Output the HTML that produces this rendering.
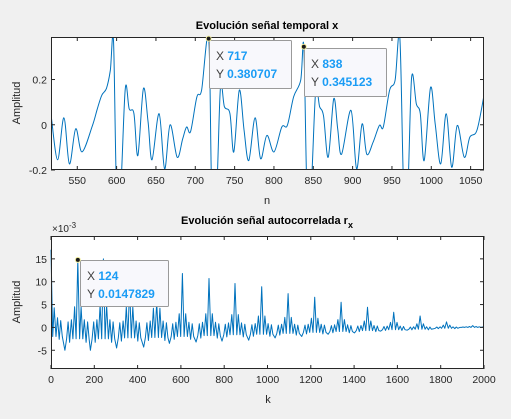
<!DOCTYPE html>
<html><head><meta charset="utf-8"><style>
body{margin:0;background:#f0f0f0;font-family:"Liberation Sans",Arial,sans-serif;}
svg text{font-family:"Liberation Sans",Arial,sans-serif;}
</style></head><body>
<svg id="fig" width="511" height="414" xmlns="http://www.w3.org/2000/svg">
<rect width="511" height="414" fill="#f0f0f0"/>
</svg>
<script>
// ---------- Top chart data: key points of signal x[n] ----------
const topN = [517,525,533,540,548,556,569,575,581,587,592,596,600,605,611,616,622,627,634,640,645,654,661,668,677,684,689,694,702,708,717,721,727,732,737,744,749,756,762,768,776,783,791,800,810,817,825,834,838,842,847,853,858,863,869,876,881,886,898,905,912,918,926,934,939,947,954,960,965,970,975,981,986,991,999,1005,1012,1019,1026,1033,1042,1049,1058,1067];
const topV = [0.034,-0.155,0.031,-0.173,-0.018,-0.12,-0.007,0.064,0.13,0.16,0.24,0.372,-0.3,-0.3,0.16,0.07,0.05,-0.136,0.16,0.012,-0.155,0.049,-0.195,0.0,-0.144,-0.062,-0.01,-0.03,0.123,0.153,0.3807,-0.3,-0.3,0.167,0.08,0.05,-0.12,0.153,-0.025,-0.158,0.031,-0.15,-0.047,-0.12,-0.01,-0.003,0.123,0.197,0.3451,-0.3,-0.3,0.145,0.08,0.04,-0.144,0.115,-0.018,-0.13,0.064,-0.195,0.004,-0.13,-0.077,-0.003,-0.01,0.153,0.197,0.387,-0.3,-0.3,0.209,0.093,0.049,-0.158,0.164,0.004,-0.173,0.049,-0.188,-0.003,-0.144,-0.055,-0.025,0.13];
const topXTicks = [550,600,650,700,750,800,850,900,950,1000,1050];
const topYTicks = [-0.2,0,0.2];
const topYLabels = ["-0.2","0","0.2"];

// ---------- Bottom chart data: autocorrelation r_x (units 1e-3) ----------
const peakLags = [0,124,242,363,488,607,730,850,973,1095,1218,1340,1462,1583,1705,1827,1948];
const peakVals = [17,14.8,15,9.1,5.5,11.8,10.7,9.6,8.9,7.4,6.6,5.5,4.4,3.3,2.5,1.2,0.4];
const sideVals = [4.3,4.5,5,4.5,4.2,3,3,2.8,2.5,2.2,2,1.7,1.4,1.1,0.8,0.5,0.2];
const ripHi = [1.5,1.2,1.2,1,1,0.8,0.8,0.7,0.6,0.5,0.5,0.4,0.3,0.2,0.1,0.1,0.1];
const ripLo = [-2,-2.5,-2.5,-2.3,-2.2,-2,-1.8,-1.6,-1.5,-1.3,-1.1,-0.9,-0.7,-0.5,-0.4,-0.2,0];
const troughVals = [-5.5,-5,-5,-4.5,-4.3,-3.5,-3.2,-3,-2.8,-2.3,-2,-1.5,-1.2,-0.8,-0.6,-0.3,0];
const botXTicks = [0,200,400,600,800,1000,1200,1400,1600,1800,2000];
const botYTicks = [-5,0,5,10,15];

const NS="http://www.w3.org/2000/svg";
const svg=document.getElementById('fig');
function el(t,a,p){const e=document.createElementNS(NS,t);for(const k in a)e.setAttribute(k,a[k]);(p||svg).appendChild(e);return e;}
function txt(s,a,p){const e=el('text',a,p);e.textContent=s;return e;}
function smooth(P){
  let d='M'+P[0][0].toFixed(1)+','+P[0][1].toFixed(1);
  for(let i=0;i<P.length-1;i++){
    const p0=P[Math.max(0,i-1)],p1=P[i],p2=P[i+1],p3=P[Math.min(P.length-1,i+2)];
    const c1x=p1[0]+(p2[0]-p0[0])/6,c1y=p1[1]+(p2[1]-p0[1])/6;
    const c2x=p2[0]-(p3[0]-p1[0])/6,c2y=p2[1]-(p3[1]-p1[1])/6;
    d+='C'+c1x.toFixed(1)+','+c1y.toFixed(1)+' '+c2x.toFixed(1)+','+c2y.toFixed(1)+' '+p2[0].toFixed(1)+','+p2[1].toFixed(1);
  }
  return d;
}

function axes(L,T,R,B,name){
  const g=el('g',{});
  
  
  const r=el('rect',{x:L,y:T,width:R-L,height:B-T,fill:'#fff'},g);
  
  
  return g;
}
function frame(g,L,T,R,B){
  const f=el('rect',{x:L+0.5,y:T+0.5,width:R-L-1,height:B-T-1,fill:'none',stroke:'#262626','stroke-width':1},g);
  
  
}

// ---------- TOP ----------
const tL=51,tR=484,tT=37,tB=170;
const tx0=516.6,tx1=1067,ty0=-0.2,ty1=0.388;
const tX=v=>tL+(v-tx0)/(tx1-tx0)*(tR-tL);
const tY=v=>tB-(v-ty0)/(ty1-ty0)*(tB-tT);
const gT=axes(tL,tT,tR,tB,'top-axes');
el('clipPath',{id:'clipT'},gT).appendChild(el('rect',{x:tL,y:tT,width:tR-tL,height:tB-tT},gT));
const tp=topN.map((n,i)=>[tX(n),tY(topV[i])]);
const pT=el('path',{d:smooth(tp),fill:'none',stroke:'#0072BD','stroke-width':1,'stroke-linejoin':'round','clip-path':'url(#clipT)'},gT);


topXTicks.forEach(v=>{const x=tX(v);
  el('line',{x1:x,y1:tB,x2:x,y2:tB-4,stroke:'#262626'},gT);el('line',{x1:x,y1:tT,x2:x,y2:tT+4,stroke:'#262626'},gT);
  const t=txt(String(v),{x:x,y:tB+14,'font-size':10.5,fill:'#262626','text-anchor':'middle'},gT);
  
  });
topYTicks.forEach((v,i)=>{const y=tY(v);
  el('line',{x1:tL,y1:y,x2:tL+4,y2:y,stroke:'#262626'},gT);el('line',{x1:tR,y1:y,x2:tR-4,y2:y,stroke:'#262626'},gT);
  const t=txt(topYLabels[i],{x:tL-4,y:y+4,'font-size':10.5,fill:'#262626','text-anchor':'end'},gT);
  
  });
frame(gT,tL,tT,tR,tB);

// ---------- BOTTOM ----------
const bL=51,bR=484,bT=236,bB=369;
const bx0=0,bx1=2000,by0=-9.1,by1=20;
const bX=v=>bL+(v-bx0)/(bx1-bx0)*(bR-bL);
const bY=v=>bB-(v-by0)/(by1-by0)*(bB-bT);
const gB=axes(bL,bT,bR,bB,'bottom-axes');
const offs=[-60,-52,-45,-38,-30,-23,-15,-8,0,8,15,23,30,38,45,52];
let pts=[];
peakLags.forEach((k,m)=>{
  const vals=[troughVals[m],ripLo[m],ripHi[m],ripLo[m]*1.3,ripHi[m]*1.4,ripLo[m],sideVals[m],ripLo[m],peakVals[m],ripLo[m],sideVals[m],ripLo[m],ripHi[m]*1.4,ripLo[m]*1.3,ripHi[m],ripLo[m]];
  offs.forEach((o,j)=>{const kk=k+o;if(kk>=0&&kk<=2000)pts.push([kk,vals[j]]);});
});
pts.push([2000,0]);
pts.sort((a,b)=>a[0]-b[0]);
let d='';pts.forEach((p,i)=>{d+=(i?'L':'M')+bX(p[0]).toFixed(1)+','+bY(p[1]).toFixed(1);});
const pB=el('path',{d:d,fill:'none',stroke:'#0072BD','stroke-width':1,'stroke-linejoin':'round'},gB);


botXTicks.forEach(v=>{const x=bX(v);
  el('line',{x1:x,y1:bB,x2:x,y2:bB-4,stroke:'#262626'},gB);el('line',{x1:x,y1:bT,x2:x,y2:bT+4,stroke:'#262626'},gB);
  const t=txt(String(v),{x:x,y:bB+14,'font-size':10.5,fill:'#262626','text-anchor':'middle'},gB);
  
  });
botYTicks.forEach(v=>{const y=bY(v);
  el('line',{x1:bL,y1:y,x2:bL+4,y2:y,stroke:'#262626'},gB);el('line',{x1:bR,y1:y,x2:bR-4,y2:y,stroke:'#262626'},gB);
  const t=txt(String(v),{x:bL-4,y:y+4,'font-size':10.5,fill:'#262626','text-anchor':'end'},gB);
  
  });
frame(gB,bL,bT,bR,bB);

// ---------- datatips ----------
function tip(px,py,bx,by,w,h,xs,ys,name){
  const g=el('g',{});
  
  
  el('rect',{x:bx+0.5,y:by+0.5,width:w,height:h,fill:'#f8f8fc',stroke:'#9a9a9a',rx:1},g);
  el('circle',{cx:px,cy:py,r:2.5,fill:'#1a1a1a',stroke:'#f4f0a0','stroke-width':1},g);
  const t1=txt('',{x:bx+7,y:by+20,'font-size':12,fill:'#404040'},g);
  t1.innerHTML='X <tspan font-weight="bold" fill="#1a9cf5">'+xs+'</tspan>';
  const t2=txt('',{x:bx+7,y:by+38,'font-size':12,fill:'#404040'},g);
  t2.innerHTML='Y <tspan font-weight="bold" fill="#1a9cf5">'+ys+'</tspan>';
}
tip(tX(717),tY(0.380707),209,40,82,48,'717','0.380707','datatip-717');
tip(tX(838),tY(0.345123),304,48,82,48,'838','0.345123','datatip-838');
tip(bX(124),bY(14.7829),80,260,88,46,'124','0.0147829','datatip-124');

// ---------- labels ----------
function lab(s,a,name){const t=txt(s,a);return t;}
lab('Evolución señal temporal x',{x:267,y:29,'font-size':11,'font-weight':'bold',fill:'#000','text-anchor':'middle'},'top-title');
const bt=lab('',{x:267,y:224,'font-size':11,'font-weight':'bold',fill:'#000','text-anchor':'middle'},'bottom-title');
bt.innerHTML='Evolución señal autocorrelada r<tspan font-size="9" dy="4">x</tspan>';
lab('n',{x:267,y:204,'font-size':11,fill:'#262626','text-anchor':'middle'},'top-x-axis-title');
lab('k',{x:268,y:403,'font-size':11,fill:'#262626','text-anchor':'middle'},'bottom-x-axis-title');
lab('Amplitud',{x:0,y:0,'font-size':11,fill:'#262626','text-anchor':'middle',transform:'translate(20,103) rotate(-90)'},'top-y-axis-title');
lab('Amplitud',{x:0,y:0,'font-size':11,fill:'#262626','text-anchor':'middle',transform:'translate(20,302) rotate(-90)'},'bottom-y-axis-title');
const ex=lab('',{x:52,y:232,'font-size':10,fill:'#262626'},'y-exponent-label');
ex.innerHTML='×10<tspan font-size="8" dy="-4">-3</tspan>';
</script>
</body></html>
